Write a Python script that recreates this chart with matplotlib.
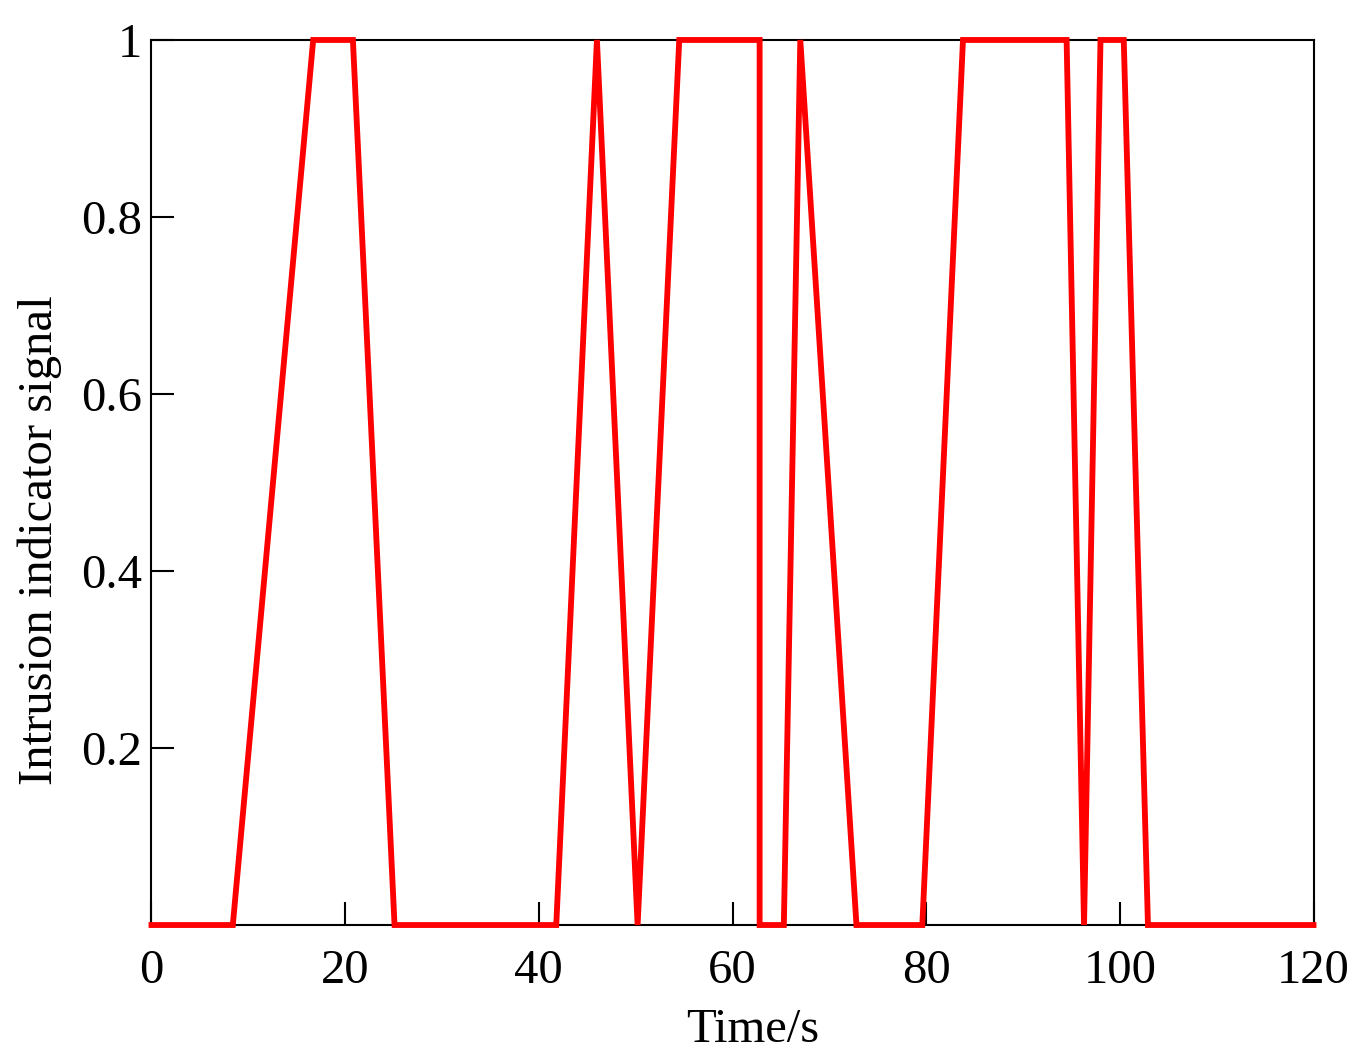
import matplotlib
matplotlib.use("Agg")
import matplotlib.pyplot as plt

# ── Data ──────────────────────────────────────────────────────────────────────
time_s = [0, 8.4, 16.7, 20.8, 25.1, 41.8, 46.0, 50.2, 54.5, 62.8, 62.8, 65.3,
          67.0, 72.8, 79.6, 83.8, 94.5, 96.3, 98.0, 100.4, 102.9, 120]
signal = [0, 0, 1, 1, 0, 0, 1, 0, 1, 1, 0, 0,
          1, 0, 0, 1, 1, 0, 1, 1, 0, 0]

x_ticks = [0, 20, 40, 60, 80, 100, 120]
y_ticks = [0.2, 0.4, 0.6, 0.8, 1.0]
y_tick_labels = ["0.2", "0.4", "0.6", "0.8", "1"]

# ── Style ─────────────────────────────────────────────────────────────────────
plt.rcParams["font.family"] = ["Liberation Serif", "DejaVu Serif"]
FONT_SIZE = 35

fig = plt.figure(figsize=(13.5, 10.63), dpi=100)
ax = fig.add_axes([0.1122, 0.1298, 0.8608, 0.8326])

ax.plot(time_s, signal, color="#ff0000", linewidth=4.2, clip_on=False,
        solid_joinstyle="miter", zorder=3)

ax.set_xlim(0, 120)
ax.set_ylim(0, 1)
ax.set_xticks(x_ticks)
ax.set_xticklabels([str(v) for v in x_ticks])
ax.set_yticks(y_ticks)
ax.set_yticklabels(y_tick_labels)

ax.tick_params(direction="in", length=16.5, width=1.5, labelsize=FONT_SIZE,
               top=False, right=False)
ax.tick_params(axis="x", pad=17)
ax.tick_params(axis="y", pad=7)
for sp in ax.spines.values():
    sp.set_linewidth(1.5)

ax.set_xlabel("Time/s", fontsize=FONT_SIZE, va="center")
ax.xaxis.set_label_coords(0.5176, -0.1186)
ax.set_ylabel("Intrusion indicator signal", fontsize=FONT_SIZE, va="center")
ax.yaxis.set_label_coords(-0.096, 0.435)

fig.savefig("out.png", dpi=100)
plt.close(fig)
